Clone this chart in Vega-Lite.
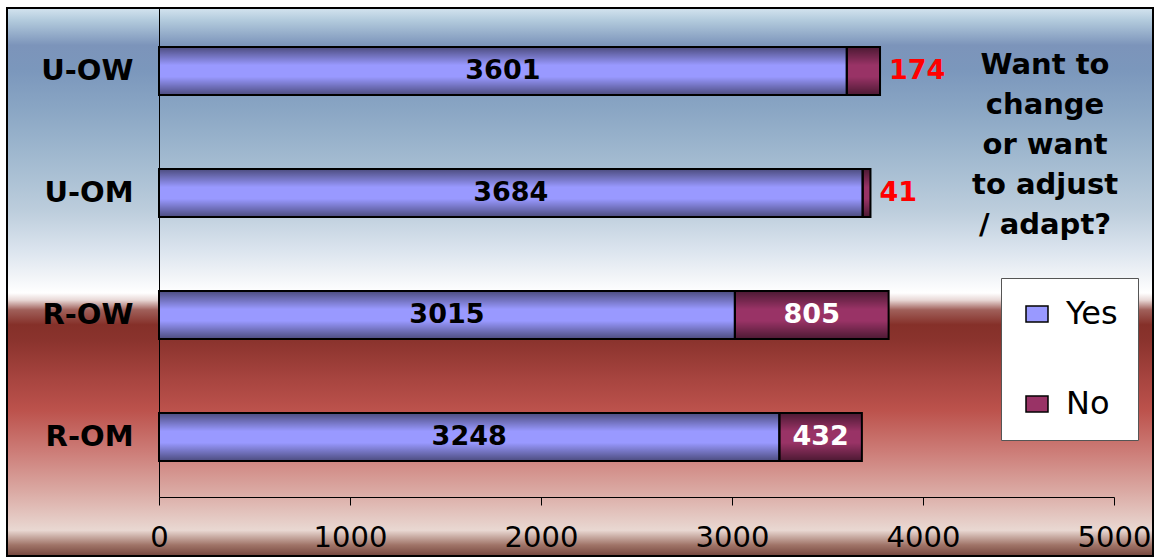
{
  "$schema": "https://vega.github.io/schema/vega-lite/v6.json",
  "width": 1146,
  "height": 548,
  "autosize": {"type": "none"},
  "padding": {"left": 7, "top": 8, "right": 4, "bottom": 2},
  "background": "white",
  "view": {
    "stroke": "black",
    "strokeWidth": 2,
    "fill": {
      "gradient": "linear",
      "x1": 0, "y1": 0, "x2": 0, "y2": 1,
      "stops": [
        {"offset": 0, "color": "#d4e4ef"},
        {"offset": 0.022, "color": "#b3cbdd"},
        {"offset": 0.068, "color": "#7c94ba"},
        {"offset": 0.113, "color": "#7b97bc"},
        {"offset": 0.186, "color": "#8aa6c4"},
        {"offset": 0.277, "color": "#a2bad0"},
        {"offset": 0.369, "color": "#bccddc"},
        {"offset": 0.442, "color": "#dbe4ee"},
        {"offset": 0.487, "color": "#f0f3f7"},
        {"offset": 0.52, "color": "#ffffff"},
        {"offset": 0.533, "color": "#e8d8d6"},
        {"offset": 0.551, "color": "#a0605a"},
        {"offset": 0.578, "color": "#853029"},
        {"offset": 0.606, "color": "#8a332d"},
        {"offset": 0.679, "color": "#a84540"},
        {"offset": 0.734, "color": "#bc524c"},
        {"offset": 0.807, "color": "#cc7b76"},
        {"offset": 0.88, "color": "#daa8a2"},
        {"offset": 0.953, "color": "#e9d8d2"},
        {"offset": 0.98, "color": "#a07468"},
        {"offset": 1, "color": "#74463d"}
      ]
    }
  },
  "config": {
    "font": "DejaVu Sans"
  },
  "layer": [
    {
      "data": {
        "values": [
          {"group": "U-OW", "answer": "Yes", "value": 3601},
          {"group": "U-OW", "answer": "No", "value": 174},
          {"group": "U-OM", "answer": "Yes", "value": 3684},
          {"group": "U-OM", "answer": "No", "value": 41},
          {"group": "R-OW", "answer": "Yes", "value": 3015},
          {"group": "R-OW", "answer": "No", "value": 805},
          {"group": "R-OM", "answer": "Yes", "value": 3248},
          {"group": "R-OM", "answer": "No", "value": 432}
        ]
      },
      "transform": [
        {"stack": "value", "groupby": ["group"], "sort": [{"field": "answer", "order": "descending"}], "as": ["x0", "x1"]},
        {"calculate": "(datum.x0 + datum.x1) / 2", "as": "xmid"}
      ],
      "encoding": {
        "y": {
          "field": "group",
          "type": "nominal",
          "sort": ["U-OW", "U-OM", "R-OW", "R-OM"],
          "title": null,
          "scale": {"range": [0, 489], "paddingInner": 0.607, "paddingOuter": 0.308, "align": 0.52},
          "axis": {
            "orient": "left",
            "offset": -152,
            "ticks": false,
            "domainColor": "black",
            "domainWidth": 1,
            "labelFont": "DejaVu Sans",
            "labelFontWeight": "bold",
            "labelFontSize": 29,
            "labelColor": "black",
            "labelPadding": 26,
            "title": null
          }
        }
      },
      "layer": [
        {
          "mark": {"type": "bar"},
          "encoding": {
            "x": {
              "field": "x0",
              "type": "quantitative",
              "title": null,
              "scale": {"domain": [0, 5000], "range": [152, 1107], "nice": false, "zero": true},
              "axis": {
                "orient": "bottom",
                "offset": -59,
                "values": [0, 1000, 2000, 3000, 4000, 5000],
                "format": "d",
                "grid": false,
                "title": null,
                "domainColor": "black",
                "domainWidth": 1,
                "tickColor": "black",
                "tickSize": 8,
                "labelFont": "DejaVu Sans",
                "labelFontSize": 29,
                "labelColor": "black",
                "labelPadding": 18,
                "labelFlush": false,
                "labelOverlap": false
              }
            },
            "x2": {"field": "x1"},
            "color": {
              "field": "answer",
              "type": "nominal",
              "scale": {"domain": ["Yes", "No"], "range": ["#9999FF", "#993366"]},
              "legend": {
                "title": null,
                "orient": "none",
                "legendX": 994,
                "legendY": 270,
                "fillColor": "white",
                "strokeColor": "#555555",
                "padding": 20,
                "rowPadding": 58,
                "symbolType": "M-1,-0.72L1,-0.72L1,0.72L-1,0.72Z",
                "symbolSize": 484,
                "symbolStrokeColor": "black",
                "symbolStrokeWidth": 1.5,
                "labelFont": "DejaVu Sans",
                "labelFontSize": 32,
                "labelColor": "black",
                "labelOffset": 13
              }
            }
          }
        },
        {
          "mark": {
            "type": "bar",
            "stroke": "black",
            "strokeWidth": 2,
            "fill": {
              "gradient": "linear",
              "x1": 0, "y1": 0, "x2": 0, "y2": 1,
              "stops": [
                {"offset": 0, "color": "rgba(0,0,0,0.5)"},
                {"offset": 0.38, "color": "rgba(0,0,0,0)"},
                {"offset": 0.62, "color": "rgba(0,0,0,0)"},
                {"offset": 1, "color": "rgba(0,0,0,0.5)"}
              ]
            }
          },
          "encoding": {
            "x": {"field": "x0", "type": "quantitative", "title": null},
            "x2": {"field": "x1"}
          }
        },
        {
          "transform": [{"filter": "datum.answer === 'Yes'"}],
          "mark": {"type": "text", "font": "DejaVu Sans", "fontWeight": "bold", "fontSize": 27, "color": "black", "baseline": "middle", "align": "center"},
          "encoding": {
            "x": {"field": "xmid", "type": "quantitative", "title": null},
            "text": {"field": "value", "type": "quantitative", "format": "d"}
          }
        },
        {
          "transform": [{"filter": "datum.answer === 'No' && datum.value >= 300"}],
          "mark": {"type": "text", "font": "DejaVu Sans", "fontWeight": "bold", "fontSize": 27, "color": "white", "baseline": "middle", "align": "center"},
          "encoding": {
            "x": {"field": "xmid", "type": "quantitative", "title": null},
            "text": {"field": "value", "type": "quantitative", "format": "d"}
          }
        },
        {
          "transform": [{"filter": "datum.answer === 'No' && datum.value < 300"}],
          "mark": {"type": "text", "font": "DejaVu Sans", "fontWeight": "bold", "fontSize": 27, "color": "#FF0000", "baseline": "middle", "align": "left", "dx": 9},
          "encoding": {
            "x": {"field": "x1", "type": "quantitative", "title": null},
            "text": {"field": "value", "type": "quantitative", "format": "d"}
          }
        }
      ]
    },
    {
      "data": {"values": [{"note": "Want to\nchange\nor want\nto adjust\n/ adapt?"}]},
      "mark": {
        "type": "text",
        "lineBreak": "\n",
        "lineHeight": 40,
        "font": "DejaVu Sans",
        "fontWeight": "bold",
        "fontSize": 29,
        "align": "center",
        "baseline": "alphabetic",
        "dy": 3,
        "color": "black"
      },
      "encoding": {
        "x": {"datum": 4639, "type": "quantitative"},
        "y": {"datum": "U-OW", "type": "nominal"},
        "text": {"field": "note"}
      }
    }
  ]
}
